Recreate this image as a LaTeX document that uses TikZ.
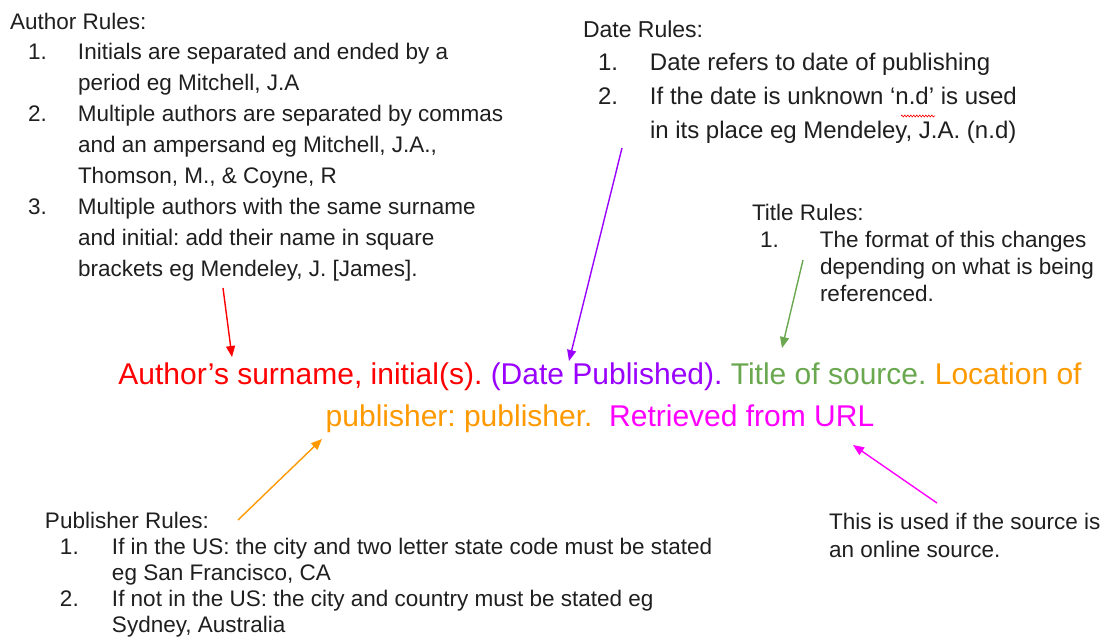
\documentclass[tikz,border=0pt]{standalone}
\usepackage{fontspec}
\setmainfont{Liberation Sans}
\usetikzlibrary{arrows.meta,decorations.pathmorphing}
\frenchspacing
\definecolor{ink}{HTML}{1F1F1F}
\definecolor{cred}{HTML}{FF0000}
\definecolor{cpurple}{HTML}{9900FF}
\definecolor{cgreen}{HTML}{6AA84F}
\definecolor{corange}{HTML}{FF9900}
\definecolor{cmagenta}{HTML}{FF00FF}
\tikzset{
  block/.style={inner sep=0pt, outer sep=0pt, anchor=base west, text=ink},
  mainline/.style={inner sep=0pt, outer sep=0pt, anchor=base},
  pointer/.style={line width=1.4pt, -{Triangle[length=11pt,width=9pt]}},
}
\begin{document}
\begin{tikzpicture}[x=1pt,y=-1pt]
\path[use as bounding box, fill=white] (0,0) rectangle (1104,637);

% Author rules
\node[block, font=\fontsize{22.5}{30.9}\selectfont] (author) at (10,29) {\begin{tabular}[t]{@{}l@{}}
Author Rules:\\
\hspace*{18pt}\makebox[50pt][l]{1.}Initials are separated and ended by a\\
\hspace*{68pt}period eg Mitchell, J.A\\
\hspace*{18pt}\makebox[50pt][l]{2.}Multiple authors are separated by commas\\
\hspace*{68pt}and an ampersand eg Mitchell, J.A.,\\
\hspace*{68pt}Thomson, M., \& Coyne, R\\
\hspace*{18pt}\makebox[50pt][l]{3.}Multiple authors with the same surname\\
\hspace*{68pt}and initial: add their name in square\\
\hspace*{68pt}brackets eg Mendeley, J. [James].
\end{tabular}};

% Date rules
\node[block, font=\fontsize{24}{33.8}\selectfont] (date) at (583,37) {\begin{tabular}[t]{@{}l@{}}
{\fontsize{23}{33.8}\selectfont Date Rules:}\\
\hspace*{15pt}\makebox[52pt][l]{1.}Date refers to date of publishing\\
\hspace*{15pt}\makebox[52pt][l]{2.}If the date is unknown ‘n.d’ is used\\
\hspace*{67pt}in its place eg Mendeley, J.A. (n.d)
\end{tabular}};

% Title rules
\node[block, font=\fontsize{22.5}{27}\selectfont] (title) at (752,220) {\begin{tabular}[t]{@{}l@{}}
Title Rules:\\
\hspace*{8pt}\makebox[60pt][l]{1.}The format of this changes\\
\hspace*{68pt}depending on what is being\\
\hspace*{68pt}referenced.
\end{tabular}};

% Publisher rules
\node[block, font=\fontsize{22.5}{26}\selectfont] (publisher) at (45,528) {\begin{tabular}[t]{@{}l@{}}
Publisher Rules:\\
\hspace*{15pt}\makebox[52pt][l]{1.}If in the US: the city and two letter state code must be stated\\
\hspace*{67pt}eg San Francisco, CA\\
\hspace*{15pt}\makebox[52pt][l]{2.}If not in the US: the city and country must be stated eg\\
\hspace*{67pt}Sydney, Australia
\end{tabular}};

% Online note
\node[block, font=\fontsize{22.5}{28}\selectfont] (online) at (829,529) {\begin{tabular}[t]{@{}l@{}}
This is used if the source is\\
an online source.
\end{tabular}};

% Main reference line
\node[mainline, font=\fontsize{30}{36}\selectfont] (line1) at (600,384) {%
\textcolor{cred}{Author’s surname, initial(s).} \textcolor{cpurple}{(Date Published).} \textcolor{cgreen}{Title of source.} \textcolor{corange}{Location of}};
\node[mainline, font=\fontsize{30}{36}\selectfont] (line2) at (600,426) {%
\textcolor{corange}{publisher: publisher.}\ \ \textcolor{cmagenta}{Retrieved from URL}};

% spell-check squiggle under n.d
\coordinate (sqa) at (901,116);
\coordinate (sqb) at (935,116);
\draw[cred, line width=0.6pt, decorate, decoration={zigzag, segment length=3pt, amplitude=1pt}] (sqa) -- (sqb);

% Pointers
\coordinate (redS) at (223,288);
\coordinate (redE) at (232,357);
\coordinate (purS) at (622,148);
\coordinate (purE) at (569,361);
\coordinate (grnS) at (803,260);
\coordinate (grnE) at (782,348);
\coordinate (oraS) at (238,520);
\coordinate (oraE) at (322,439);
\coordinate (magS) at (937,503);
\coordinate (magE) at (853,445);
\draw[pointer, cred] (redS) -- (redE);
\draw[pointer, cpurple] (purS) -- (purE);
\draw[pointer, cgreen] (grnS) -- (grnE);
\draw[pointer, corange] (oraS) -- (oraE);
\draw[pointer, cmagenta] (magS) -- (magE);
\end{tikzpicture}
\end{document}
